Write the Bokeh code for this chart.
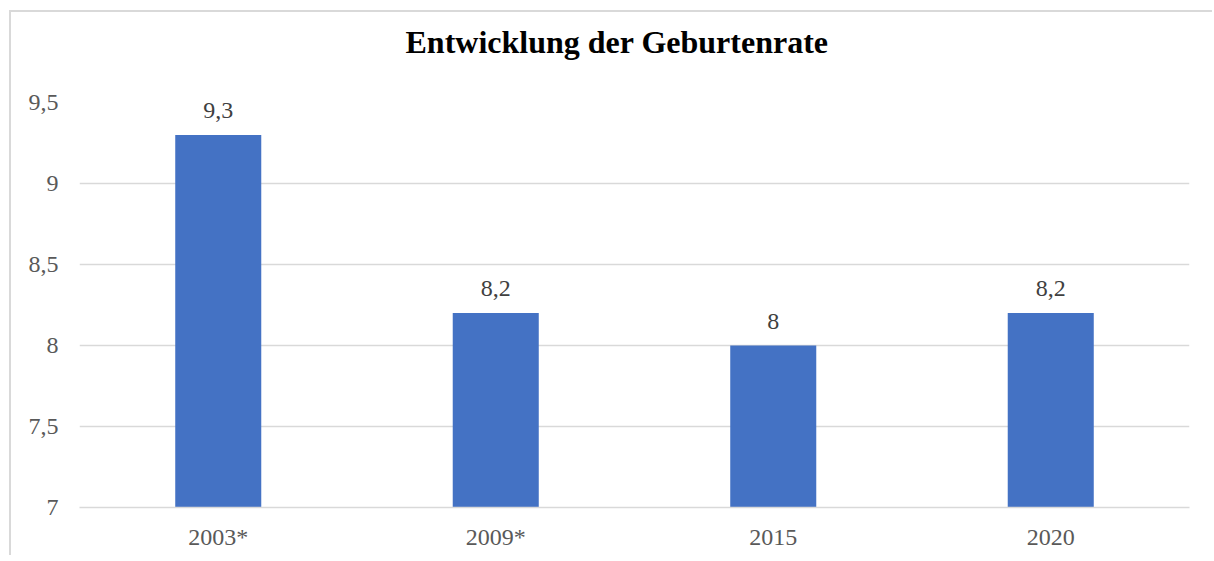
from bokeh.plotting import figure
from bokeh.models import ColumnDataSource, FactorRange, Range1d, LabelSet, Title
from bokeh.embed import file_html
from bokeh.resources import INLINE

categories = ["2003*", "2009*", "2015", "2020"]
values = [9.3, 8.2, 8.0, 8.2]
y_ticks = [7, 7.5, 8, 8.5, 9, 9.5]
y_tick_labels = ["7", "7,5", "8", "8,5", "9", "9,5"]
title_text = "Entwicklung der Geburtenrate"

labels = [f"{v:g}".replace(".", ",") for v in values]
source = ColumnDataSource(dict(cat=categories, val=values, lab=labels))

FONT = "Liberation Serif"
GRAY = "#595959"

p = figure(
    width=1203, height=545,
    x_range=FactorRange(*categories, range_padding=0),
    y_range=Range1d(7, 9.5),
    output_backend="svg", toolbar_location=None,
    min_border_left=68, min_border_right=25, min_border_top=90, min_border_bottom=50,
)
p.margin = (10, 0, 0, 9)
p.styles = {"border-top": "2px solid #d9d9d9", "border-left": "2px solid #d9d9d9"}

p.vbar(x="cat", top="val", bottom=7, width=0.31, source=source,
       fill_color="#4472C4", line_color=None)

p.add_layout(LabelSet(x="cat", y="val", text="lab", source=source,
                      text_align="center", text_baseline="bottom", y_offset=17,
                      text_font=FONT, text_font_size="24px", text_color="#404040"))

# spacer between the title and the plot area
p.add_layout(Title(text=" ", text_font=FONT, text_font_size="37px", standoff=0), "above")
p.add_layout(Title(text=title_text, text_font=FONT, text_font_size="32px",
                   text_font_style="bold", text_color="#000000",
                   align="left", offset=326, standoff=0), "above")

p.outline_line_color = None
p.xgrid.grid_line_color = None
p.ygrid.grid_line_color = "#d9d9d9"
p.ygrid.grid_line_width = 1.5

p.yaxis.ticker = y_ticks
p.yaxis.major_label_overrides = {t: l for t, l in zip(y_ticks, y_tick_labels)}
p.yaxis.axis_line_color = None
p.yaxis.major_tick_line_color = None
p.yaxis.minor_tick_line_color = None
p.yaxis.major_label_standoff = 15
p.yaxis.major_label_text_font = FONT
p.yaxis.major_label_text_font_size = "24px"
p.yaxis.major_label_text_color = GRAY

p.xaxis.axis_line_color = "#d9d9d9"
p.xaxis.axis_line_width = 1.5
p.xaxis.major_tick_line_color = None
p.xaxis.minor_tick_line_color = None
p.xaxis.major_label_standoff = 10
p.xaxis.major_label_text_font = FONT
p.xaxis.major_label_text_font_size = "24px"
p.xaxis.major_label_text_color = GRAY

open("out.html", "w").write(file_html(p, INLINE))
